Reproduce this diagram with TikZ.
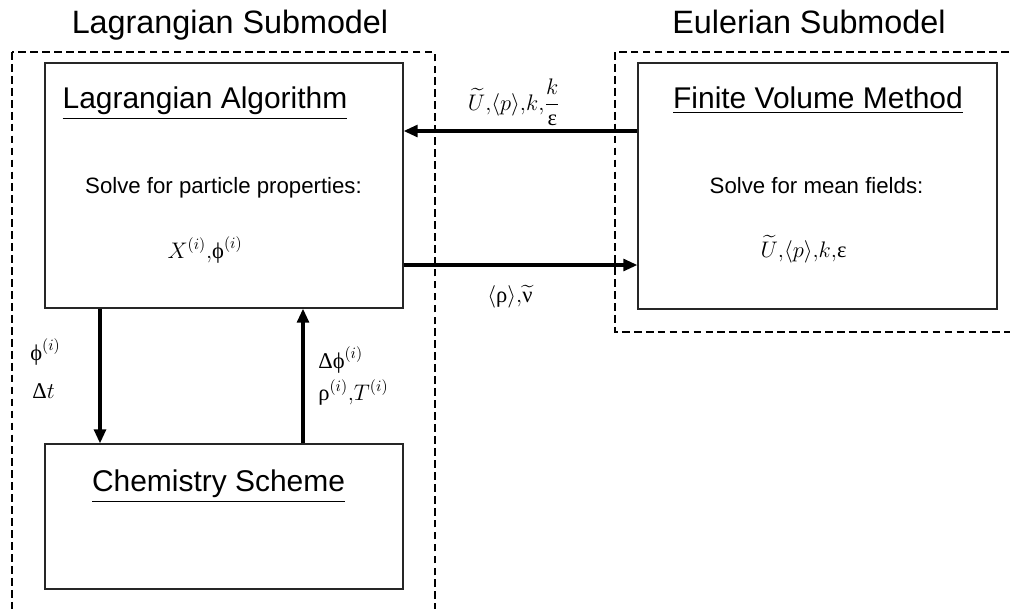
\documentclass[tikz,border=0pt]{standalone}
\usepackage{fix-cm}
\usepackage{amsmath,amssymb}
\usepackage{fontspec}
\setmainfont{Liberation Sans}
\newfontfamily\grk{Liberation Serif}
\usepackage{tikz}
\usetikzlibrary{arrows.meta,positioning,calc}
\newcommand{\gr}[1]{\text{\grk #1}}
\newcommand{\hd}[1]{\underline{#1}}
\newcommand{\cm}{\mathord{,}}
\tikzset{
  blockbox/.style={draw=black!85,line width=0.9pt,minimum width=8.95cm,inner sep=0pt},
  subframe/.style={draw,line width=1.6pt,dash pattern=on 5.5pt off 3pt},
  flow/.style={-{Triangle[length=10pt,width=8.5pt]},line width=2.2pt},
  headtxt/.style={font=\fontsize{23}{28}\selectfont,anchor=base},
  titletxt/.style={font=\fontsize{21.3}{26}\selectfont,anchor=base},
  bodytxt/.style={font=\fontsize{15.8}{19}\selectfont,anchor=base},
  mathtxt/.style={font=\fontsize{16}{19}\selectfont,anchor=base},
}

\begin{document}
\begin{tikzpicture}[x=0.025cm,y=-0.025cm]
    \useasboundingbox (0,0) rectangle (1010,608);
    \clip (0,0) rectangle (1010,608);

    \node[headtxt] (laghead) at (230,33) {Lagrangian Submodel};
    \node[headtxt] (eulhead) at (809,33) {Eulerian Submodel};
    \draw[subframe] (12,52) rectangle (435,640);
    \draw[subframe] (615,52) rectangle (1040,332);

    \node[blockbox,minimum height=6.125cm] (lagalg) at (224,185.5) {};
    \node[blockbox,minimum width=8.975cm,minimum height=6.15cm] (fvm) at (817.5,186) {};
    \node[blockbox,minimum height=3.625cm] (chem) at (224,516.5) {};

    \node[titletxt] (lagtitle) at (205,108) {\hd{Lagrangian Algorithm}};
    \node[bodytxt] (lagtext) at (223.5,193) {Solve for particle properties:};
    \node[mathtxt] (lagvars) at (205,258) {$X^{(i)}\cm\gr{ϕ}^{(i)}$};

    \node[titletxt] (fvmtitle) at (818,108) {\hd{Finite Volume Method}};
    \node[bodytxt] (fvmtext) at (816.5,193) {Solve for mean fields:};
    \node[mathtxt] (fvmvars) at (803.5,257) {$\widetilde{U}\cm\langle p\rangle\cm k\cm\gr{ε}$};

    \node[titletxt] (chemtitle) at (218.5,491) {\hd{Chemistry Scheme}};

    \coordinate (ytop) at (0,131);
    \coordinate (ybot) at (0,265);
    \coordinate (xdn) at (100,0);
    \coordinate (xup) at (303,0);
    \draw[flow] (fvm.west |- ytop) -- (lagalg.east |- ytop);
    \draw[flow] (lagalg.east |- ybot) -- (fvm.west |- ybot);
    \draw[flow] (lagalg.south -| xdn) -- (chem.north -| xdn);
    \draw[flow] (chem.north -| xup) -- (lagalg.south -| xup);

    \node[mathtxt] (toplbl) at (514,110) {$\widetilde{U}\cm\langle p\rangle\cm k\cm\dfrac{k}{\gr{ε}}$};
    \node[mathtxt] (botlbl) at (510,302) {$\langle\gr{ρ}\rangle\cm\widetilde{\gr{ν}}$};
    \node[mathtxt,anchor=base west,inner sep=0pt] (phiin) at (30,360) {$\gr{ϕ}^{(i)}$};
    \node[mathtxt,anchor=base west,inner sep=0pt] (dtin) at (32,398) {$\gr{Δ}t$};
    \node[mathtxt,anchor=base west,inner sep=0pt] (dphiout) at (318,368) {$\gr{Δϕ}^{(i)}$};
    \node[mathtxt,anchor=base west,inner sep=0pt] (rhoout) at (318,400) {$\gr{ρ}^{(i)}\cm T^{(i)}$};
  \end{tikzpicture}
\end{document}
